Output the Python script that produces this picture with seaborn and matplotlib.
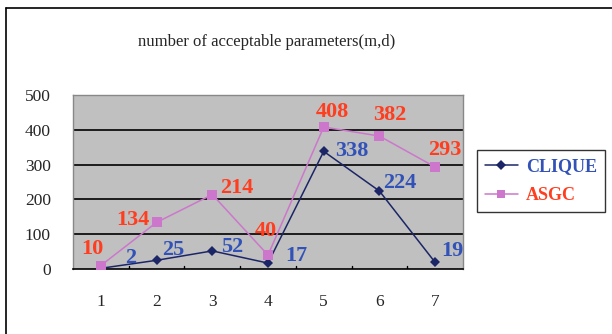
import matplotlib
matplotlib.use("Agg")
import matplotlib.pyplot as plt
import seaborn as sns
import pandas as pd
from matplotlib.lines import Line2D

categories = [1, 2, 3, 4, 5, 6, 7]
clique = [2, 25, 52, 17, 338, 224, 19]
asgc = [10, 134, 214, 40, 408, 382, 293]
yticks = [0, 100, 200, 300, 400, 500]

df = pd.DataFrame({"x": categories * 2,
                   "value": clique + asgc,
                   "series": ["CLIQUE"] * 7 + ["ASGC"] * 7})

sns.set_theme(style="white")
plt.rcParams["font.family"] = ["Liberation Serif", "DejaVu Serif"]

fig = plt.figure(figsize=(6.12, 3.34), dpi=100)
ax = fig.add_axes([73 / 612, 1 - 269 / 334, (463 - 73) / 612, (269 - 95) / 334])
ax.set_facecolor("#C0C0C0")

navy = "#1C2667"
pink = "#CC77CC"
red = "#FF3D1F"
blue = "#3252B8"

sns.lineplot(data=df, x="x", y="value", hue="series",
             palette={"CLIQUE": navy, "ASGC": pink}, style="series",
             markers={"CLIQUE": "D", "ASGC": "s"}, dashes=False,
             markersize=7, linewidth=1.1, ax=ax, legend=False, zorder=3)
for ln in ax.lines:
    ln.set_markeredgewidth(0)
ax.lines[0].set_markersize(5.5)

ax.set_xlim(0.5, 7.5)
ax.set_ylim(0, 500)
ax.set_yticks(yticks)
ax.set_xticks(categories)
ax.set_xticklabels([str(c) for c in categories], fontsize=12.5)
ax.set_yticklabels([str(v) for v in yticks], fontsize=12.5)
ax.tick_params(axis="x", length=0, pad=18)
ax.tick_params(axis="y", length=0, pad=16)
ax.set_xlabel("")
ax.set_ylabel("")
for y in yticks[1:-1]:
    ax.axhline(y, color="black", linewidth=1.2, zorder=1)
# category boundary ticks on the baseline
for b in [1.5, 2.5, 3.5, 4.5, 5.5, 6.5]:
    ax.plot([b, b], [0, 10], color="black", linewidth=1.0, zorder=2)
for side in ["left", "right", "top"]:
    ax.spines[side].set_color("#888888")
    ax.spines[side].set_linewidth(1.0)
ax.spines["bottom"].set_color("black")
ax.spines["bottom"].set_linewidth(1.2)

lab_font = dict(fontsize=16, fontweight="bold", family=["Liberation Serif"])

# label offsets in pixels (dx, dy) from each point
clique_off = [(30, 10), (17, 10), (20, 4), (28, 7), (28, 0), (20, 8), (17, 11)]
for x, v, off in zip(categories, clique, clique_off):
    ax.annotate(str(v), (x, v), xytext=off, textcoords="offset pixels",
                color=blue, ha="center", va="center", **lab_font)

asgc_off = [(-8, 17), (-24, 2), (24, 7), (-2, 24), (9, 15), (10, 21), (10, 17)]
for x, v, off in zip(categories, asgc, asgc_off):
    ax.annotate(str(v), (x, v), xytext=off, textcoords="offset pixels",
                color=red, ha="center", va="center", **lab_font)

fig.text(267 / 612, 1 - 42 / 334, "number of acceptable parameters(m,d)",
         ha="center", va="center", fontsize=12)

# legend
handles = [Line2D([], [], color=navy, marker="D", markersize=5, markeredgewidth=0, linewidth=1.1),
           Line2D([], [], color=pink, marker="s", markersize=6, markeredgewidth=0, linewidth=1.1)]
leg = fig.legend(handles, ["CLIQUE", "ASGC"], loc="upper left",
                 bbox_to_anchor=(477 / 612, 1 - 150 / 334), frameon=True,
                 fancybox=False, edgecolor="black", handlelength=1.8,
                 borderpad=0.45, labelspacing=0.65, handletextpad=0.45,
                 borderaxespad=0.0,
                 prop={"size": 13, "weight": "bold", "family": ["Liberation Serif"]})
leg.get_frame().set_linewidth(1.0)
leg.get_texts()[0].set_color(blue)
leg.get_texts()[1].set_color(red)

# chart frame
fig.add_artist(Line2D([6 / 612, 6 / 612], [0, 1 - 8 / 334], transform=fig.transFigure,
                      color="black", linewidth=1.2))
fig.add_artist(Line2D([6 / 612, 1], [1 - 8 / 334, 1 - 8 / 334], transform=fig.transFigure,
                      color="black", linewidth=1.2))

fig.savefig("out.png", dpi=100)
